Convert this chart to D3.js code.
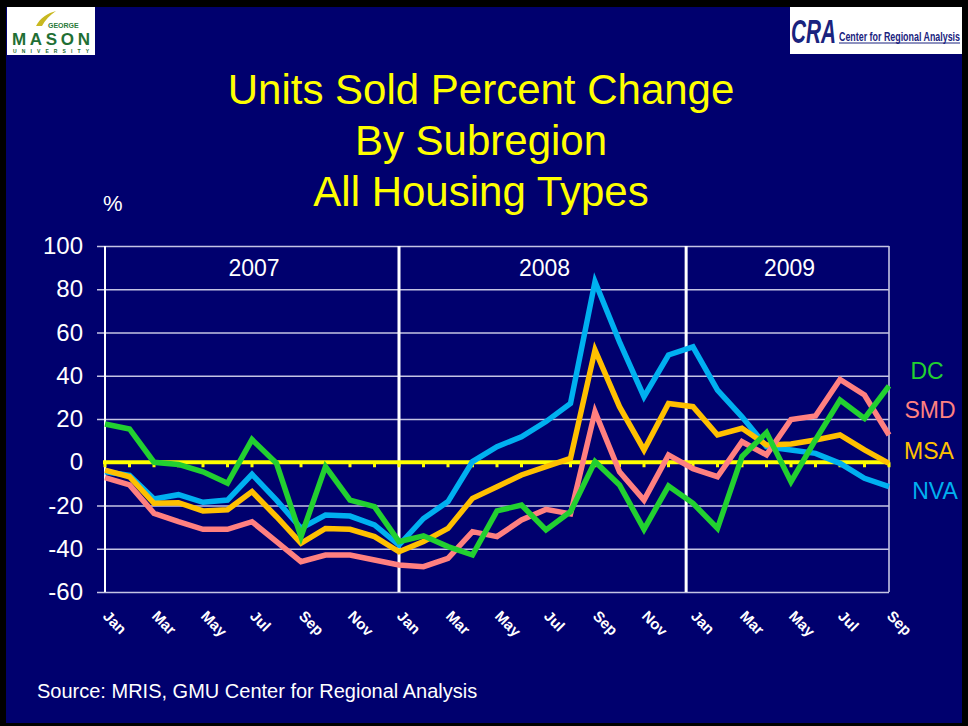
<!DOCTYPE html>
<html>
<head>
<meta charset="utf-8">
<script src="https://cdn.jsdelivr.net/npm/d3@7"></script>
<style>
  body{margin:0;background:#000;}
  text{font-family:Arial,"Liberation Sans",sans-serif;}
</style>
</head>
<body>
<div id="chart"></div>
<script>
// months Jan 2007 .. Sep 2009
var months = ["Jan","Feb","Mar","Apr","May","Jun","Jul","Aug","Sep","Oct","Nov","Dec",
              "Jan","Feb","Mar","Apr","May","Jun","Jul","Aug","Sep","Oct","Nov","Dec",
              "Jan","Feb","Mar","Apr","May","Jun","Jul","Aug","Sep"];
var years = ["2007","2008","2009"];
var yearBreaks = [12, 23.72];   // index where each new year block starts (separator lines)
var yTicks = [100,80,60,40,20,0,-20,-40,-60];

var seriesNames = ["NVA","MSA","SMD","DC"];
var nva = [-4.4,-6,-17,-15,-18.5,-17.5,-5.6,-17.5,-30.5,-24.4,-24.9,-29,
           -38.3,-26,-18.2,0.3,7.2,11.8,18.8,27.2,83.5,55.7,30.3,49.6,
           53.4,33.4,21,7.2,5.7,4.1,-0.5,-7.4,-11.3];
var msa = [-3.6,-6.7,-19,-18.7,-22.5,-22,-13.6,-25.2,-37.5,-30.6,-31,-34.4,
           -41.4,-36.7,-30.6,-16.7,-11.3,-5.9,-2,1.8,51.9,25.7,5.7,27.2,
           25.7,12.6,15.7,8,8.4,10.3,12.6,5.7,-0.5];
var smd = [-7.1,-10.5,-23.6,-27.5,-31,-31,-27.5,-36.7,-46,-42.9,-42.9,-45.2,
           -47.5,-48.3,-44.4,-32.1,-34.4,-26.7,-21.8,-23.9,23.4,-4.4,-17.5,3.4,
           -3,-6.7,9.5,3.4,19.8,21.4,38.3,31.1,12.6];
var dc  = [17.7,15.4,0,-1,-4.4,-9.7,10.5,-0.5,-34.4,-2,-17.5,-20.5,
           -36.7,-34,-39,-42.9,-22.5,-19.8,-31.3,-22.9,0.3,-10.5,-31,-11,
           -19,-30.6,2.6,13.7,-9,10.3,28.8,20.3,35.3];

var width = 968, height = 726;
var pLeft = 105, pRight = 889, pTop = 246, pBottom = 592;
var colors = {NVA:"#00b0f0", MSA:"#ffc000", SMD:"#ff8080", DC:"#22d030"};
var values = {NVA:nva, MSA:msa, SMD:smd, DC:dc};

var svg = d3.select("#chart").append("svg")
    .attr("width",width)
    .attr("height",height);

// frame + background
svg.append("rect").attr("width",width).attr("height",height).attr("fill","#000");
svg.append("rect").attr("x",6).attr("y",7).attr("width",956).attr("height",716).attr("fill","#00006e");

// logos (rough)
svg.append("rect").attr("x",7).attr("y",7).attr("width",88).attr("height",48).attr("fill","#fff");
svg.append("path").attr("d","M36,26 C40,18 48,13 56,11 C50,15 45,20 42,26 Z").attr("fill","#c8b820");
svg.append("text").attr("x",48).attr("y",28).attr("font-size",7).attr("font-weight","bold")
    .attr("fill","#2a7a3a").text("GEORGE");
svg.append("text").attr("x",12).attr("y",45).attr("font-size",17).attr("font-weight","bold")
    .attr("font-family","'Liberation Serif',serif").attr("fill","#1f6f35").attr("textLength",78).text("MASON");
svg.append("text").attr("x",13).attr("y",53).attr("font-size",5).attr("font-weight","bold")
    .attr("fill","#1f6f35").attr("textLength",76).text("UNIVERSITY");

var cra = svg.append("g");
cra.append("rect").attr("x",790).attr("y",7).attr("width",172).attr("height",47).attr("fill","#fff");
cra.append("text").attr("x",791).attr("y",43).attr("font-size",33).attr("font-weight","bold")
    .attr("font-style","italic").attr("fill","#1a237e")
    .attr("textLength",45).attr("lengthAdjust","spacingAndGlyphs").text("CRA");
cra.append("text").attr("x",839).attr("y",41).attr("font-size",12).attr("font-weight","bold")
    .attr("fill","#1a237e")
    .attr("textLength",121).attr("lengthAdjust","spacingAndGlyphs")
    .text("Center for Regional Analysis");
cra.append("line").attr("x1",839).attr("x2",960).attr("y1",43).attr("y2",43)
    .attr("stroke","#1a237e").attr("stroke-width",1);

// title
var title = ["Units Sold Percent Change","By Subregion","All Housing Types"];
svg.append("g").selectAll("text")
    .data(title)
    .enter()
    .append("text")
    .attr("x",481)
    .attr("y",function(d,i){return 104+i*51;})
    .attr("text-anchor","middle")
    .attr("font-size",42)
    .attr("fill","#ffff00")
    .text(function(d){return d;});

var xScale = d3.scaleLinear()
    .domain([0,months.length-1])
    .range([pLeft,pRight]);

var yScale = d3.scaleLinear()
    .domain([-60,100])
    .range([pBottom,pTop]);

// grid
svg.append("g")
    .attr("transform","translate("+pLeft+",0)")
    .call(d3.axisLeft(yScale)
      .tickValues(yTicks.filter(function(d){return d!=0;}))
      .tickSize(-(pRight-pLeft))
      .tickFormat(""))
    .call(function(g){
      g.select(".domain").remove();
      g.selectAll(".tick line").attr("stroke","#c4c4e4").attr("stroke-width",1.6)
        .attr("x1",-8);
    });

// y labels
svg.append("g").selectAll("text")
    .data(yTicks)
    .enter()
    .append("text")
    .attr("x",83)
    .attr("y",function(d){return yScale(d)+8;})
    .attr("text-anchor","end")
    .attr("font-size",24)
    .attr("fill","#fff")
    .text(function(d){return d;});

svg.append("text").attr("x",103).attr("y",211).attr("font-size",22).attr("fill","#fff").text("%");

// frame lines
svg.append("line").attr("x1",pRight).attr("x2",pRight).attr("y1",pTop).attr("y2",pBottom)
    .attr("stroke","#c4c4e4").attr("stroke-width",1.6);
svg.append("line").attr("x1",pLeft).attr("x2",pLeft).attr("y1",pTop).attr("y2",pBottom)
    .attr("stroke","#fff").attr("stroke-width",2);

// year separators
svg.append("g").selectAll("line")
    .data(yearBreaks)
    .enter()
    .append("line")
    .attr("x1",function(d){return xScale(d);})
    .attr("x2",function(d){return xScale(d);})
    .attr("y1",pTop).attr("y2",pBottom)
    .attr("stroke","#fff")
    .attr("stroke-width",3);

var bounds = [0].concat(yearBreaks).concat([months.length-1]);
svg.append("g").selectAll("text")
    .data(years)
    .enter()
    .append("text")
    .attr("x",function(d,i){return (xScale(bounds[i])+xScale(bounds[i+1]))/2+2;})
    .attr("y",276)
    .attr("text-anchor","middle")
    .attr("font-size",23)
    .attr("fill","#fff")
    .text(function(d){return d;});

// zero line (yellow) with month ticks
var zero = svg.append("g");
zero.append("line")
    .attr("x1",pLeft-2).attr("x2",pRight)
    .attr("y1",yScale(0)).attr("y2",yScale(0))
    .attr("stroke","#ffff00").attr("stroke-width",4);
zero.selectAll("rect")
    .data(months)
    .enter()
    .append("rect")
    .attr("x",function(d,i){return xScale(i)-1.5;})
    .attr("y",yScale(0))
    .attr("width",3)
    .attr("height",5)
    .attr("fill","#ffff00");

// x labels
svg.append("g").selectAll("text")
    .data(months)
    .enter()
    .filter(function(d,i){return i%2==0;})
    .append("text")
    .attr("transform",function(d,i){return "translate("+(xScale(i*2)-3)+",617) rotate(45)";})
    .attr("font-size",15)
    .attr("font-weight","bold")
    .attr("fill","#fff")
    .text(function(d){return d;});

// lines
var line = d3.line()
    .x(function(d,i){return xScale(i);})
    .y(function(d){return yScale(d);});

svg.append("g").selectAll("path")
    .data(seriesNames)
    .enter()
    .append("path")
    .attr("d",function(s){return line(values[s]);})
    .attr("fill","none")
    .attr("stroke",function(s){return colors[s];})
    .attr("stroke-width",5.5)
    .attr("stroke-linejoin","miter");

// legend labels
var legend = [["DC",927,379],["SMD",930,418],["MSA",929,459],["NVA",935,499]];
svg.append("g").selectAll("text")
    .data(legend)
    .enter()
    .append("text")
    .attr("x",function(d){return d[1];})
    .attr("y",function(d){return d[2];})
    .attr("text-anchor","middle")
    .attr("font-size",23)
    .attr("fill",function(d){return colors[d[0]];})
    .text(function(d){return d[0];});

svg.append("text")
    .attr("x",37)
    .attr("y",698)
    .attr("font-size",20)
    .attr("fill","#fff")
    .text("Source: MRIS, GMU Center for Regional Analysis");
</script>
</body>
</html>
